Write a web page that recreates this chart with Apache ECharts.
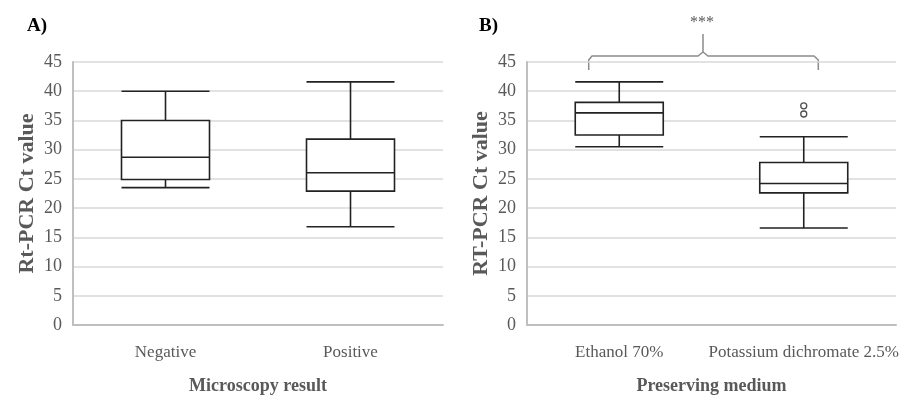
<!DOCTYPE html>
<html><head><meta charset="utf-8">
<script src="https://cdn.jsdelivr.net/npm/echarts@6/dist/echarts.min.js"></script>
<style>html,body{margin:0;padding:0;background:#fff;overflow:hidden}#c{width:902px;height:401px}</style>
</head><body><div id="c"></div>
<script>
// Panel A
const catsA = ['Negative', 'Positive'];
// [min, Q1, median, Q3, max]
const boxA = [
  [23.5, 24.9, 28.7, 35.0, 40.0],
  [16.8, 22.9, 26.05, 31.8, 41.6]
];
// Panel B
const catsB = ['Ethanol 70%', 'Potassium dichromate 2.5%'];
const boxB = [
  [30.5, 32.5, 36.3, 38.1, 41.6],
  [16.6, 22.6, 24.2, 27.8, 32.2]
];
const outliersB = [[1, 36.1], [1, 37.5]];
const yTicks = [0, 5, 10, 15, 20, 25, 30, 35, 40, 45];

const FONT = 'Liberation Serif';
const GREY = '#595959';

function yAxis(idx, name) {
  return {
    type: 'value', gridIndex: idx, min: 0, max: 45, interval: 5,
    name: name, nameLocation: 'middle', nameGap: 35,
    nameTextStyle: {fontFamily: FONT, fontWeight: 'bold', fontSize: 22, color: GREY},
    axisLine: {show: true, lineStyle: {color: '#bfbfbf', width: 2}},
    axisTick: {show: false},
    axisLabel: {fontFamily: FONT, fontSize: 18, color: GREY, margin: 11,
      formatter: v => yTicks.includes(v) ? String(v) : ''},
    splitLine: {lineStyle: {color: '#d9d9d9', width: 1.5}}
  };
}
function xAxis(idx, cats, name) {
  return {
    type: 'category', gridIndex: idx, data: cats,
    name: name, nameLocation: 'middle', nameGap: 52,
    nameTextStyle: {fontFamily: FONT, fontWeight: 'bold', fontSize: 18, color: GREY},
    axisLine: {lineStyle: {color: '#bfbfbf', width: 2}},
    axisTick: {show: false},
    axisLabel: {fontFamily: FONT, fontSize: 17, color: GREY, margin: 19, interval: 0}
  };
}
const boxStyle = {color: '#fff', borderColor: '#222', borderWidth: 1.6};

const chart = echarts.init(document.getElementById('c'));
chart.setOption({
  animation: false,
  backgroundColor: '#fff',
  grid: [
    {left: 73, right: 459, top: 62, bottom: 76, outerBoundsMode: 'none', containLabel: false},
    {left: 527, right: 6, top: 62, bottom: 76, outerBoundsMode: 'none', containLabel: false}
  ],
  xAxis: [xAxis(0, catsA, 'Microscopy result'), xAxis(1, catsB, 'Preserving medium')],
  yAxis: [yAxis(0, 'Rt-PCR Ct value'), yAxis(1, 'RT-PCR Ct value')],
  series: [
    {type: 'boxplot', xAxisIndex: 0, yAxisIndex: 0, data: boxA, boxWidth: [88, 88], itemStyle: boxStyle},
    {type: 'boxplot', xAxisIndex: 1, yAxisIndex: 1, data: boxB, boxWidth: [88, 88], itemStyle: boxStyle},
    {type: 'scatter', xAxisIndex: 1, yAxisIndex: 1, data: outliersB, symbol: 'circle', symbolSize: 6,
      itemStyle: {color: '#fff', borderColor: '#222', borderWidth: 1.3}}
  ],
  graphic: [
    {type: 'text', left: 27, top: 17, style: {text: 'A)', font: 'bold 19px "Liberation Serif"', fill: '#000'}},
    {type: 'text', left: 479, top: 17, style: {text: 'B)', font: 'bold 19px "Liberation Serif"', fill: '#000'}},
    {type: 'text', left: 690, top: 15, style: {text: '***', font: '16px "Liberation Serif"', fill: GREY}},
    {type: 'polyline', shape: {points: [
      [588.7, 70], [588.7, 60], [592, 56], [698, 56], [703, 52], [703, 34]
    ]}, style: {stroke: '#8c8c8c', lineWidth: 1.5, fill: null}},
    {type: 'polyline', shape: {points: [
      [703, 52], [708, 56], [814, 56], [818.3, 60], [818.3, 70]
    ]}, style: {stroke: '#8c8c8c', lineWidth: 1.5, fill: null}}
  ]
});
</script></body></html>
